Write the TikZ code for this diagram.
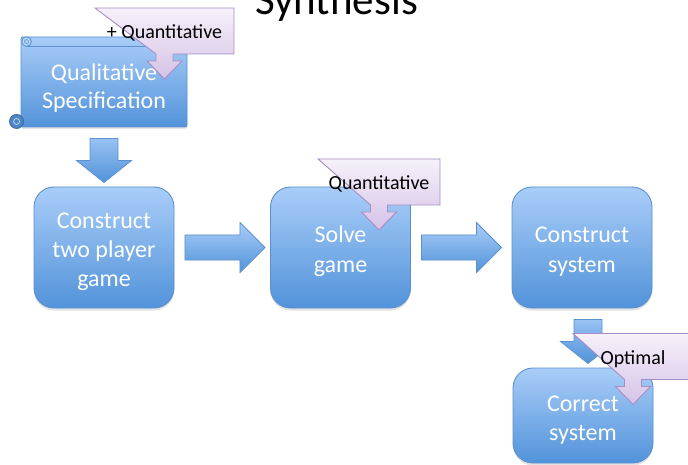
\documentclass[tikz,border=0pt]{standalone}
\usepackage{fontspec}
\setmainfont{Carlito}
\usetikzlibrary{calc,shadows}

\definecolor{bluetop}{HTML}{A9CDF8}
\definecolor{bluebot}{HTML}{5293DA}
\definecolor{blueline}{HTML}{5C91CF}
\definecolor{bluecurl}{HTML}{4F86C6}
\definecolor{lavtop}{HTML}{F6F1FA}
\definecolor{lavbot}{HTML}{D5C2E6}
\definecolor{lavline}{HTML}{A68DC4}

% down-arrow callout: #1 name, #2 centre of the box, #3 half width, #4 text
\newcommand{\dcallout}[4]{%
  \path[calloutfill]
    ($(#2)+(-#3,-23)$) -- ($(#2)+(#3,-23)$) -- ($(#2)+(#3,23)$)
    -- ($(#2)+(8.5,23)$) -- ($(#2)+(8.5,30)$) -- ($(#2)+(17.5,30)$)
    -- ($(#2)+(0,48)$)
    -- ($(#2)+(-17.5,30)$) -- ($(#2)+(-8.5,30)$) -- ($(#2)+(-8.5,23)$)
    -- cycle;
  \node[callouttext] (#1) at (#2) {#4};}

\begin{document}
\begin{tikzpicture}[x=1pt,y=-1pt,
  boxtext/.style={text=white, font=\fontsize{24}{29}\selectfont, align=center},
  bluefill/.style={draw=blueline, line width=0.9pt, top color=bluetop, bottom color=bluebot},
  stepbox/.style={rectangle, rounded corners=20pt, bluefill,
    minimum width=140pt, minimum height=121pt, inner sep=0pt,
    drop shadow={shadow xshift=0pt, shadow yshift=-2.5pt, opacity=0.22},
    boxtext, text height=54pt, text depth=5pt},
  threelines/.style={text height=83pt},
  scrollbody/.style={rectangle, rounded corners=2pt, bluefill,
    minimum width=166pt, minimum height=90pt, inner sep=0pt,
    drop shadow={shadow xshift=0pt, shadow yshift=-2pt, opacity=0.2}},
  calloutfill/.style={draw=lavline, line width=0.9pt, top color=lavtop, bottom color=lavbot, line join=miter},
  callouttext/.style={text=black, font=\fontsize{20}{24}\selectfont, inner sep=0pt,
    text height=16pt, text depth=0pt},
  arrowfill/.style={draw=blueline, line width=0.8pt, top color=bluetop, bottom color=bluebot, line join=miter},
  rblock/.style={to path={($(\tikztostart)+(10.5,-12.5)$) -- ++(55,0) -- ++(0,-12.5)
    -- ++(25,25) -- ++(-25,25) -- ++(0,-12.5) -- ++(-55,0) -- cycle}},
  dblock/.style={to path={($(\tikztostart)+(-14,11)$) -- ++(28,0) -- ++(0,22)
    -- ++(13.5,0) -- ++(-27.5,22) -- ++(-27.5,-22) -- ++(13.5,0) -- cycle}},
]
\fill[white] (0,0) rectangle (688,465);
\useasboundingbox (0,0) rectangle (688,465);

% title
\node[font=\fontsize{43}{50}\selectfont, anchor=base, inner sep=0pt] (title) at (336.5,15) {Synthesis};

% specification scroll
\node[scrollbody] (spec) at (104,82) {};
\draw[blueline, line width=0.9pt] ($(spec.north west)+(6,10)$) -- ($(spec.north east)+(0,10)$);
\draw[blueline, line width=0.9pt, fill=bluetop!80!white] ($(spec.north west)+(6,5)$) circle (4.8pt);
\draw[blueline, line width=0.7pt] ($(spec.north west)+(6,5)$) circle (2pt);
\draw[bluecurl!80!black, line width=0.9pt, fill=bluecurl] ($(spec.south west)+(-4,-6)$) circle (7pt);
\draw[white!70!bluecurl, line width=0.7pt] ($(spec.south west)+(-4,-6)$) circle (3pt);
\node[boxtext, font=\fontsize{24}{27.5}\selectfont, inner sep=0pt, text height=57.5pt, text depth=5pt]
  (spectext) at (spec.center) {Qualitative\\Specification};
\dcallout{plusq}{164.5,31}{69.5}{+ Quantitative}

% main flow
\path[arrowfill] (spec.south) to[dblock] (spec.south);
\node[stepbox, threelines] (game) at (104,247.5) {Construct\\two player\\game};
\node[stepbox] (solve) at (340.5,247.5) {Solve\\game};
\node[stepbox] (sys) at (582,247.5) {Construct\\system};
\path[arrowfill] (game.east) to[rblock] (solve.west);
\path[arrowfill] (solve.east) to[rblock] (sys.west);
\dcallout{quant}{379,182}{61}{Quantitative}

\path[arrowfill] ([xshift=6pt]sys.south) to[dblock] ([xshift=6pt]sys.south);
\node[stepbox, minimum height=95pt] (correct) at (583,415.5) {Correct\\system};
\dcallout{opt}{633,356.5}{60}{Optimal}
\end{tikzpicture}
\end{document}
